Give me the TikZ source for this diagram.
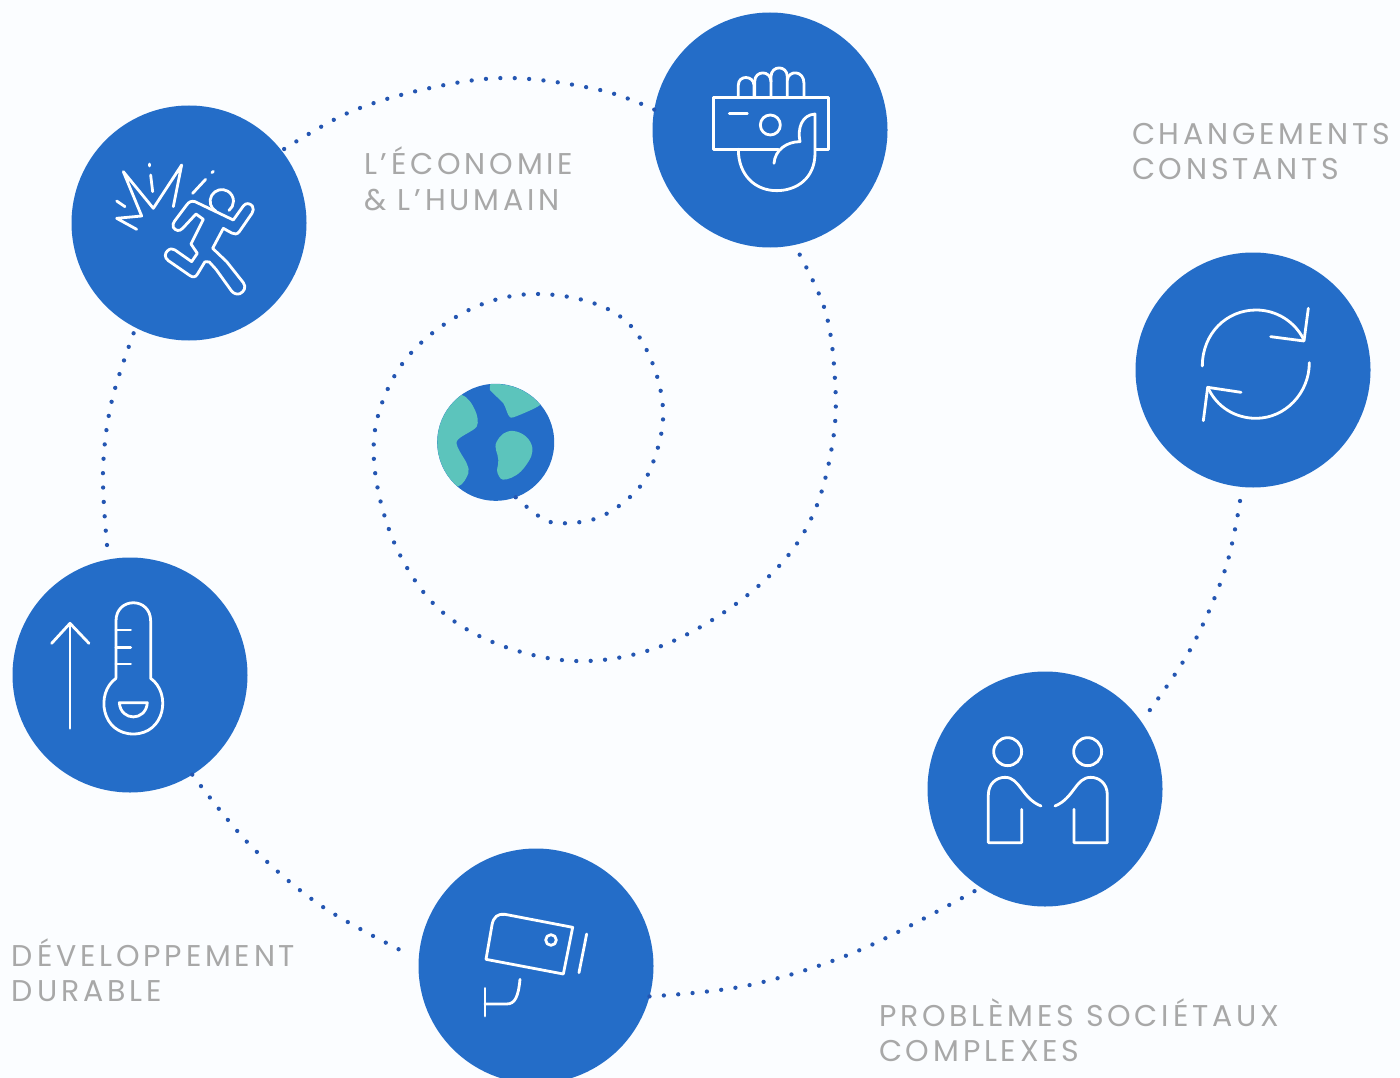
\documentclass[tikz,border=0pt]{standalone}
\usepackage{fontspec}
\newfontfamily\lblfont[LetterSpace=12.7]{Poppins}
\definecolor{bgc}{RGB}{251,253,255}
\definecolor{blu}{RGB}{36,109,200}
\definecolor{dotc}{RGB}{36,86,178}
\definecolor{teal2}{RGB}{92,196,188}
\definecolor{lblc}{RGB}{168,168,168}
\tikzset{
  disc/.style={circle,fill=blu,minimum size=235,inner sep=0,outer sep=0},
  dotline/.style={draw=dotc,line width=4.3,line cap=round,dash pattern=on 0pt off 14.4pt},
  ic/.style={draw=white,line width=2.8pt,line cap=round,line join=round},
  lbl/.style={font=\fontsize{30}{35.5}\selectfont\lblfont,text=lblc,align=left,anchor=north west,inner sep=0,outer sep=0},
  zoomed/.style={shift={#1},x=0.3333pt,y=-0.3333pt}
}
\begin{document}
\begin{tikzpicture}[x=1pt,y=-1pt]
\useasboundingbox (0,0) rectangle (1400,1078);
\fill[bgc] (0,0) rectangle (1400,1078);
\node[disc] (run) at (189,223) {};
\node[disc] (money) at (770,130) {};
\node[disc] (cycle) at (1253,370) {};
\node[disc] (people) at (1045,789) {};
\node[disc] (cam) at (536,966) {};
\node[disc] (therm) at (130,675) {};
\node[circle,fill=blu,minimum size=117,inner sep=0,outer sep=0] (earth) at (495.7,442.3) {};
\coordinate (cycleend) at (1240,501);
\coordinate (peopleend) at (1144,718);
\coordinate (camend) at (406,953);
\coordinate (thermend) at (107,545);
% connectors
\draw[dotline] plot[smooth,tension=0.6] coordinates {(earth.-70) (545,520) (570,523) (600,517) (630,497) (650,470) (663,420) (655,370) (630,325) (590,302) (533,294) (480,305) (430,335) (395,375) (375,430) (378,490) (400,555) (440,610) (500,645) (575,661) (650,650) (720,615) (780,565) (815,510) (833,440) (835,380) (825,310) (money.-78)};
\draw[dotline] plot[smooth,tension=0.6] coordinates {(money.170) (600,90) (510,78) (430,88) (350,112) (run.38)};
\draw[dotline] plot[smooth,tension=0.6] coordinates {(thermend) (103,470) (112,400) (run.-117)};
\draw[dotline] plot[smooth,tension=0.6] coordinates {(therm.-58) (250,845) (320,905) (camend)};
\draw[dotline] plot[smooth,tension=0.6] coordinates {(cam.-15) (750,985) (860,950) (people.-123)};
\draw[dotline] plot[smooth,tension=0.6] coordinates {(cycleend) (1225,570) (1190,650) (peopleend)};
% labels
\node[lbl] (l1) at (364,147) {L’ÉCONOMIE\\\& L’HUMAIN};
\node[lbl] (l2) at (1132,123) {CHANGEMENTS\\CONSTANTS};
\node[lbl] (l3) at (12,938.5) {DÉVELOPPEMENT\\DURABLE};
\node[lbl] (l4) at (879,998.5) {PROBLÈMES SOCIÉTAUX\\COMPLEXES};
% globe
\begin{scope}[zoomed={(425,370)}]
\clip (212,217) circle[radius=175];
\fill[teal2] plot[smooth cycle,tension=0.5] coordinates {(110,75) (150,120) (155,170) (95,215) (125,280) (130,310) (98,350) (0,350) (-20,200) (0,75)};
\fill[teal2] plot[smooth cycle,tension=0.4] coordinates {(197,40) (195,60) (235,100) (250,135) (265,142) (345,105) (370,50) (197,0)};
\fill[teal2] plot[smooth cycle,tension=0.8] coordinates {(215,215) (265,183) (320,225) (300,290) (245,328) (218,310) (220,270)};
\end{scope}
% runner
\begin{scope}[zoomed={(90,140)}]
\draw[ic] (140,268)--(80,235)--(155,228)--(100,95)--(190,205)--(275,75)--(250,200);
\draw[ic] (105,200)--(80,183);
\draw[ic] (188,155)--(182,105);
\draw[ic] (179,72)--(179,78);
\draw[ic] (308,160)--(347,118);
\draw[ic] (366,98)--(370,94);
\draw[ic] (378,214) arc[start angle=120,end angle=412,radius=35];
\draw[ic] (345,365)--(322,403) .. controls (316,413) and (308,412) .. (300,407)--(235,362) .. controls (222,352) and (225,340) .. (232,333) .. controls (240,325) and (248,325) .. (255,330)--(305,365)--(322,340)--(303,312)--(340,238)--(318,222)--(278,265) .. controls (268,276) and (256,272) .. (250,262) .. controls (247,255) and (250,248) .. (254,243)--(290,195) .. controls (297,185) and (305,182) .. (315,185)--(430,240)--(460,198) .. controls (468,187) and (480,190) .. (487,198) .. controls (492,205) and (490,213) .. (486,220)--(448,275) .. controls (442,284) and (432,283) .. (425,279)--(400,265)--(368,325)--(410,365)--(460,428) .. controls (470,442) and (462,455) .. (450,461) .. controls (440,465) and (430,460) .. (424,452)--(378,388)--(358,366)--(345,365);
\end{scope}
% money
\begin{scope}[zoomed={(690,50)}]
\draw[ic] (265,298)--(70,298)--(70,142)--(415,142)--(415,298)--(378,298);
\draw[ic] (118,190)--(172,190);
\draw[ic] (241,225) circle[radius=30];
\draw[ic] (145,140)--(145,105) .. controls (145,75) and (190,75) .. (192,105)--(192,140);
\draw[ic] (194,140)--(194,95) .. controls (194,60) and (243,60) .. (243,95)--(243,140);
\draw[ic] (243,95)--(243,80) .. controls (243,45) and (292,45) .. (292,80)--(292,140);
\draw[ic] (292,90) .. controls (295,60) and (342,60) .. (342,100)--(342,140);
\draw[ic] (252,340) .. controls (255,300) and (290,275) .. (330,275) .. controls (322,235) and (335,195) .. (375,192)--(375,310) .. controls (375,385) and (320,422) .. (260,422) .. controls (195,422) and (145,375) .. (145,298);
\end{scope}
% cycle
\begin{scope}[zoomed={(1180,290)}]
\draw[ic] (67,228) .. controls (67,130) and (140,60) .. (228,60) .. controls (290,60) and (345,95) .. (372,150);
\draw[ic] (388,218) .. controls (388,310) and (315,385) .. (228,385) .. controls (165,385) and (110,350) .. (85,295);
\draw[ic] (385,55)--(372,153)--(272,140);
\draw[ic] (70,392)--(83,292)--(183,307);
\end{scope}
% people
\begin{scope}[zoomed={(970,720)}]
\draw[ic] (113,95) circle[radius=42];
\draw[ic] (353,95) circle[radius=42];
\draw[ic] (155,268)--(155,368)--(55,368)--(55,225) .. controls (55,190) and (80,172) .. (105,172) .. controls (150,172) and (155,235) .. (213,258);
\draw[ic] (312,268)--(312,368)--(412,368)--(412,225) .. controls (412,190) and (387,172) .. (362,172) .. controls (317,172) and (312,235) .. (255,258);
\end{scope}
% camera
\begin{scope}[zoomed={(470,900)}]
\draw[ic,line join=round] (48,178)--(66,75) .. controls (70,50) and (85,40) .. (105,43)--(308,82)--(280,222)--cycle;
\draw[ic] (243,120) circle[radius=16];
\draw[ic] (350,102)--(327,218);
\draw[ic] (45,265)--(45,348);
\draw[ic] (45,312)--(110,312) .. controls (135,312) and (145,290) .. (150,238);
\end{scope}
% thermometer
\begin{scope}[zoomed={(40,590)}]
\draw[ic] (90,415)--(90,100);
\draw[ic] (35,160)--(90,100)--(147,160);
\draw[ic] (228,265)--(228,93) .. controls (228,20) and (332,20) .. (332,93)--(332,265) .. controls (395,310) and (375,432) .. (280,432) .. controls (185,432) and (165,310) .. (228,265);
\draw[ic] (228,120)--(272,120);
\draw[ic] (228,172)--(272,172);
\draw[ic] (228,222)--(272,222);
\draw[ic] (238,338)--(322,338) .. controls (318,395) and (242,395) .. (238,338)--cycle;
\end{scope}
\end{tikzpicture}
\end{document}
